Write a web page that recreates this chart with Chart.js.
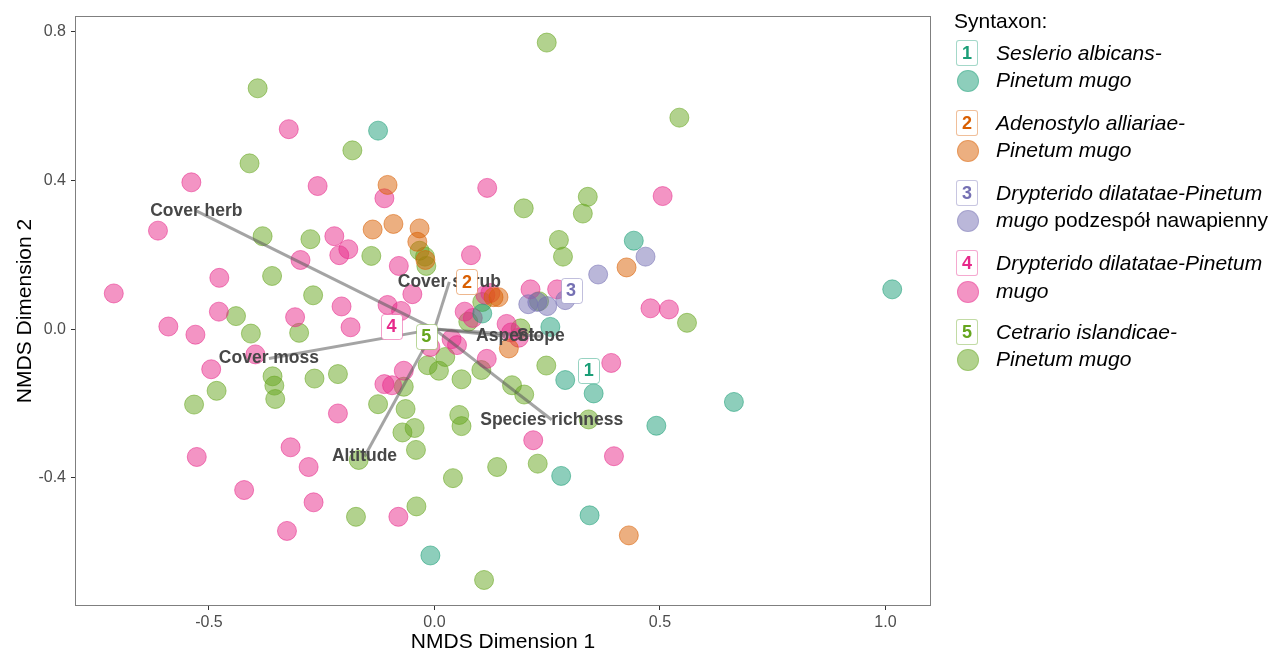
<!DOCTYPE html>
<html>
<head>
<meta charset="utf-8">
<script src="https://cdn.jsdelivr.net/npm/chart.js@4.4.1/dist/chart.umd.min.js"></script>
<style>
  body { margin: 0; background: #fff; font-family: 'Liberation Sans', Arial, sans-serif; }
  #wrap { position: relative; width: 1279px; height: 652px; }
  #nmds { position: absolute; left: 0; top: 0; }
  .lg { position: absolute; white-space: nowrap; font-size: 21px; line-height: 24px; color: #000; }
  .lg i { font-style: italic; }
  .box { position: absolute; width: 20px; height: 24px; border-radius: 3px; background: #fff;
         font: bold 18px 'Liberation Sans', Arial, sans-serif; line-height: 24px; text-align: center; }
  .dot { position: absolute; width: 20px; height: 20px; border-radius: 50%; }
</style>
</head>
<body>
<div id="wrap">
  <canvas id="nmds" width="1279" height="652"></canvas>
  <div id="legend"></div>
</div>
<script>
// Warna per syntaxon (palet Dark2)
var groupColors = ['#1B9E77', '#D95F02', '#7570B3', '#E7298A', '#66A61E'];
var groupIds = ['1', '2', '3', '4', '5'];

// Skor NMDS per kelompok [dim1, dim2]
var g1 = [[-0.125, 0.534], [0.442, 0.238], [1.015, 0.107], [0.257, 0.006], [0.106, 0.042], [0.290, -0.137],
          [0.353, -0.173], [0.492, -0.260], [0.664, -0.196], [0.281, -0.395], [0.344, -0.501], [-0.009, -0.609]];
var g2 = [[-0.104, 0.388], [-0.137, 0.268], [-0.091, 0.283], [-0.033, 0.271], [-0.038, 0.235], [-0.020, 0.186],
          [0.426, 0.166], [0.131, 0.086], [0.142, 0.086], [0.165, -0.052], [0.431, -0.555]];
var g3 = [[0.468, 0.195], [0.363, 0.147], [0.208, 0.067], [0.228, 0.073], [0.250, 0.062], [0.290, 0.078]];
var g4 = [[-0.323, 0.538], [-0.539, 0.395], [-0.259, 0.385], [-0.111, 0.352], [0.117, 0.380], [-0.613, 0.265],
          [-0.222, 0.250], [-0.191, 0.215], [-0.211, 0.199], [-0.297, 0.186], [-0.079, 0.170], [0.081, 0.199],
          [-0.477, 0.138], [-0.711, 0.096], [-0.206, 0.061], [-0.049, 0.094], [-0.104, 0.065], [-0.074, 0.049],
          [-0.478, 0.047], [-0.309, 0.032], [0.067, 0.047], [0.506, 0.358], [0.213, 0.107], [0.272, 0.107],
          [0.479, 0.056], [0.520, 0.053], [0.113, 0.092], [0.124, 0.097], [-0.186, 0.005], [0.160, 0.014],
          [0.170, -0.009], [0.187, -0.023], [0.116, -0.080], [0.038, -0.027], [0.050, -0.043], [-0.009, -0.048],
          [0.392, -0.091], [-0.590, 0.007], [-0.530, -0.015], [-0.397, -0.068], [-0.495, -0.108], [-0.111, -0.148],
          [-0.094, -0.151], [-0.068, -0.112], [-0.214, -0.227], [-0.527, -0.344], [-0.319, -0.318], [-0.279, -0.371],
          [-0.422, -0.433], [-0.268, -0.466], [-0.327, -0.543], [-0.080, -0.505], [0.219, -0.299], [0.398, -0.342],
          [0.085, 0.030]];
var g5 = [[-0.392, 0.648], [0.249, 0.771], [0.543, 0.569], [-0.410, 0.446], [-0.182, 0.481], [-0.381, 0.250],
          [-0.275, 0.242], [-0.140, 0.197], [-0.360, 0.143], [-0.269, 0.091], [-0.440, 0.035], [-0.407, -0.012],
          [-0.300, -0.010], [-0.359, -0.127], [-0.355, -0.152], [-0.353, -0.188], [-0.266, -0.133], [-0.214, -0.121],
          [-0.483, -0.166], [-0.533, -0.203], [-0.125, -0.202], [-0.064, -0.215], [-0.071, -0.278], [-0.044, -0.266],
          [-0.041, -0.325], [-0.168, -0.352], [0.041, -0.401], [-0.174, -0.505], [-0.040, -0.477], [0.110, -0.675],
          [-0.015, -0.097], [0.010, -0.112], [0.024, -0.075], [0.060, -0.135], [0.055, -0.231], [0.060, -0.261],
          [0.104, -0.110], [-0.068, -0.155], [0.139, -0.371], [0.248, -0.098], [0.172, -0.151], [0.199, -0.176],
          [0.342, -0.243], [0.229, -0.362], [0.560, 0.017], [0.191, 0.002], [0.198, 0.325], [0.340, 0.356],
          [0.329, 0.311], [0.276, 0.240], [0.285, 0.195], [-0.033, 0.211], [-0.021, 0.195], [-0.018, 0.170],
          [0.106, 0.073], [0.232, 0.075], [0.075, 0.020]];
var groups = [g1, g2, g3, g4, g5];

// Centroid kelompok (label kotak)
var centroidX = [0.342, 0.072, 0.303, -0.095, -0.018];
var centroidY = [-0.110, 0.127, 0.105, 0.008, -0.019];

// Vektor variabel lingkungan
var vectorNames = ['Cover herb', 'Cover shrub', 'Cover moss', 'Altitude', 'Species richness', 'Aspect', 'Slope'];
var vectorX = [-0.528, 0.033, -0.367, -0.155, 0.260, 0.157, 0.236];
var vectorY = [0.318, 0.127, -0.079, -0.343, -0.244, -0.019, -0.019];

// Tick sumbu
var xTicks = [-0.5, 0.0, 0.5, 1.0];
var yTicks = [-0.4, 0.0, 0.4, 0.8];

var FONT = "'Liberation Sans', Arial, sans-serif";

function rgba(hex, a) {
    var n = parseInt(hex.slice(1), 16);
    return 'rgba(' + (n >> 16) + ',' + ((n >> 8) & 255) + ',' + (n & 255) + ',' + a + ')';
}

var datasets = [];
vectorNames.forEach(function(name, i) {
    datasets.push({
        label: name,
        data: [{ x: 0, y: 0 }, { x: vectorX[i], y: vectorY[i] }],
        showLine: true,
        pointRadius: 0,
        borderColor: 'rgba(90,90,90,0.55)',
        borderWidth: 3,
        order: 0
    });
});
groups.forEach(function(pts, i) {
    datasets.push({
        label: groupIds[i],
        data: pts.map(function(p) { return { x: p[0], y: p[1] }; }),
        pointRadius: 9.5,
        backgroundColor: rgba(groupColors[i], 0.5),
        borderColor: rgba(groupColors[i], 0.55),
        borderWidth: 1,
        order: 1
    });
});

// Label vektor, kotak centroid dan bingkai panel
var overlay = {
    id: 'overlay',
    afterDatasetsDraw: function(chart) {
        var ctx = chart.ctx, xs = chart.scales.x, ys = chart.scales.y, a = chart.chartArea;
        ctx.save();
        ctx.beginPath();
        ctx.rect(a.left, a.top, a.right - a.left, a.bottom - a.top);
        ctx.clip();
        ctx.font = 'bold 17.5px ' + FONT;
        ctx.fillStyle = '#474747';
        ctx.textAlign = 'center';
        ctx.textBaseline = 'middle';
        vectorNames.forEach(function(n, i) {
            ctx.fillText(n, xs.getPixelForValue(vectorX[i]), ys.getPixelForValue(vectorY[i]));
        });
        ctx.font = 'bold 18px ' + FONT;
        groupIds.forEach(function(id, i) {
            var cx = xs.getPixelForValue(centroidX[i]), cy = ys.getPixelForValue(centroidY[i]);
            var w = 21, h = 25;
            ctx.beginPath();
            ctx.roundRect(Math.round(cx - w / 2) + 0.5, Math.round(cy - h / 2) + 0.5, w, h, 3);
            ctx.fillStyle = '#fff';
            ctx.fill();
            ctx.strokeStyle = rgba(groupColors[i], 0.45);
            ctx.lineWidth = 1;
            ctx.stroke();
            ctx.fillStyle = groupColors[i];
            ctx.fillText(id, cx, cy + 1);
        });
        ctx.restore();
        ctx.save();
        ctx.strokeStyle = '#7f7f7f';
        ctx.lineWidth = 1;
        ctx.strokeRect(a.left + 0.5, a.top + 0.5, a.right - a.left - 1, a.bottom - a.top - 1);
        ctx.restore();
    }
};

var ctx = document.getElementById('nmds').getContext('2d');
var nmdsChart = new Chart(ctx, {
    type: 'scatter',
    data: { datasets: datasets },
    options: {
        responsive: false,
        animation: false,
        layout: { padding: { top: 16, right: 348, bottom: 0, left: 0 } },
        plugins: { legend: { display: false }, tooltip: { enabled: false } },
        scales: {
            x: {
                type: 'linear',
                min: -0.797, max: 1.101,
                afterBuildTicks: function(s) { s.ticks = xTicks.map(function(v) { return { value: v }; }); },
                afterFit: function(s) { s.height = 46; },
                grid: { drawOnChartArea: false, drawTicks: true, tickLength: 4, color: '#333' },
                border: { display: false },
                ticks: {
                    callback: function(v) { return v.toFixed(1); },
                    font: { size: 16, family: FONT }, color: '#4D4D4D', padding: 3,
                    maxRotation: 0, autoSkip: false
                },
                title: {
                    display: true, text: 'NMDS Dimension 1', color: '#000',
                    font: { size: 21, family: FONT, lineHeight: 0.9 }, padding: { top: 0, bottom: 0 }
                }
            },
            y: {
                type: 'linear',
                min: -0.745, max: 0.8425,
                afterBuildTicks: function(s) { s.ticks = yTicks.map(function(v) { return { value: v }; }); },
                afterFit: function(s) { s.width = 75; },
                grid: { drawOnChartArea: false, drawTicks: true, tickLength: 4, color: '#333' },
                border: { display: false },
                ticks: {
                    callback: function(v) { return v.toFixed(1); },
                    font: { size: 16, family: FONT }, color: '#4D4D4D', padding: 5, autoSkip: false
                },
                title: {
                    display: true, text: 'NMDS Dimension 2', color: '#000',
                    font: { size: 21, family: FONT }, padding: { top: 13, bottom: 0 }
                }
            }
        }
    },
    plugins: [overlay]
});

// Legenda (HTML)
var legendLines = [
    ['<i>Seslerio albicans-</i>', '<i>Pinetum mugo</i>'],
    ['<i>Adenostylo alliariae-</i>', '<i>Pinetum mugo</i>'],
    ['<i>Drypterido dilatatae-Pinetum</i>', '<i>mugo</i> podzespół nawapienny'],
    ['<i>Drypterido dilatatae-Pinetum</i>', '<i>mugo</i>'],
    ['<i>Cetrario islandicae-</i>', '<i>Pinetum mugo</i>']
];
var legendY = [52.5, 122.5, 192.5, 263, 331.5];
var html = '<div class="lg" style="left:954px;top:9px;">Syntaxon:</div>';
legendLines.forEach(function(lines, i) {
    var y = legendY[i], c = groupColors[i];
    html += '<div class="box" style="left:956px;top:' + (y - 13) + 'px;color:' + c +
            ';border:1px solid ' + rgba(c, 0.4) + ';">' + groupIds[i] + '</div>';
    html += '<div class="dot" style="left:957px;top:' + (y + 17.5) + 'px;background:' + rgba(c, 0.5) +
            ';border:0.5px solid ' + rgba(c, 0.3) + ';"></div>';
    html += '<div class="lg" style="left:996px;top:' + (y - 12) + 'px;">' + lines[0] + '</div>';
    html += '<div class="lg" style="left:996px;top:' + (y + 15.5) + 'px;">' + lines[1] + '</div>';
});
document.getElementById('legend').innerHTML = html;
</script>
</body>
</html>
